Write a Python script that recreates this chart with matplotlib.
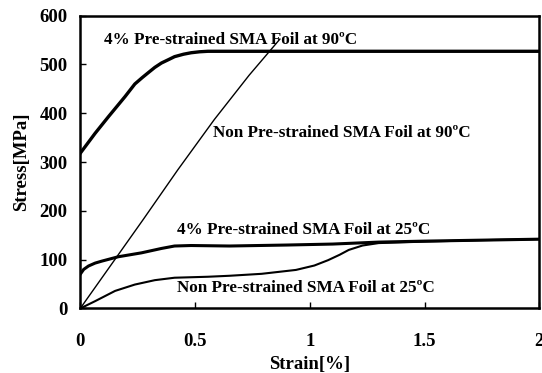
#!/usr/bin/env python3

import numpy as np
import matplotlib
matplotlib.use('Agg')
import matplotlib.pyplot as plt

plt.rcParams['font.family'] = ['Liberation Serif', 'DejaVu Serif']
plt.rcParams['font.weight'] = 'bold'
plt.rcParams['axes.labelweight'] = 'bold'

# 4% pre-strained foil at 90 C
pre90_strain = [0.0, 0.065, 0.123, 0.195, 0.238, 0.27, 0.296, 0.325, 0.354, 0.385, 0.411, 0.45, 0.483, 0.52, 0.556, 0.8, 1.2, 1.6, 2.0]
pre90_stress = [318, 359, 393, 434, 460, 473, 483, 494, 503, 510, 516, 521, 524, 526, 527, 527, 527, 527, 527]

# non pre-strained foil at 90 C
non90_strain = [0.0, 0.274, 0.425, 0.584, 0.736, 0.87]
non90_stress = [0, 182, 284, 387, 478, 552]

# 4% pre-strained foil at 25 C
pre25_strain = [0.0, 0.015, 0.036, 0.065, 0.094, 0.166, 0.267, 0.354, 0.411, 0.483, 0.65, 0.9, 1.1, 1.3, 1.5, 1.75, 2.0]
pre25_stress = [70, 80, 87, 93, 97, 106, 114, 123, 128, 129, 128, 130, 132, 136, 138, 140, 142]

# non pre-strained foil at 25 C
non25_strain = [0.0, 0.065, 0.152, 0.238, 0.325, 0.411, 0.556, 0.65, 0.79, 0.94, 1.02, 1.08, 1.13, 1.17, 1.23, 1.30, 1.5, 1.75, 2.0]
non25_stress = [0, 15, 36, 49, 58, 63, 65, 67, 71, 79, 88, 99, 110, 120, 129, 134, 137, 140, 142]

fig = plt.figure(figsize=(5.42, 3.73), dpi=100)
ax = fig.add_axes([0.148, 0.173, 0.847, 0.785])

ax.plot(pre90_strain, pre90_stress, color='black', lw=2.4)
ax.plot(non90_strain, non90_stress, color='black', lw=1.0)
ax.plot(pre25_strain, pre25_stress, color='black', lw=2.2)
ax.plot(non25_strain, non25_stress, color='black', lw=1.5)

tfs = 12.3
ax.text(0.105, 550, '4% Pre-strained SMA Foil at 90\u00baC', fontsize=tfs, fontweight='bold', va='center')
ax.text(0.58, 360, 'Non Pre-strained SMA Foil at 90\u00baC', fontsize=tfs, fontweight='bold', va='center')
ax.text(0.42, 161, '4% Pre-strained SMA Foil at 25\u00baC', fontsize=tfs, fontweight='bold', va='center')
ax.text(0.42, 42, 'Non Pre-strained SMA Foil at 25\u00baC', fontsize=tfs, fontweight='bold', va='center')

ax.set_xlim(0, 2)
ax.set_ylim(0, 600)
ax.set_xticks([0, 0.5, 1, 1.5, 2])
ax.set_xticklabels(['0', '0.5', '1', '1.5', '2'], fontweight='bold')
ax.set_yticks(range(0, 601, 100))
ax.set_yticklabels([str(v) for v in range(0, 601, 100)], fontweight='bold')
ax.tick_params(direction='in', length=4, width=1, labelsize=13.5)
ax.tick_params(axis='x', pad=18)
ax.tick_params(axis='y', pad=9)
for s in ax.spines.values():
	s.set_linewidth(1.8)

ax.set_xlabel('Strain[%]', fontsize=13.5, fontweight='bold', labelpad=4)
ax.set_ylabel('Stress[MPa]', fontsize=13.5, fontweight='bold', labelpad=7)

plt.savefig('out.png', dpi=100)
